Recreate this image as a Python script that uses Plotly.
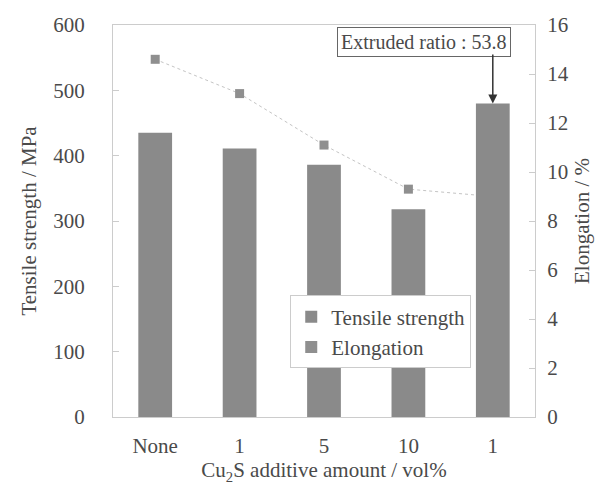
import plotly.graph_objects as go

categories = ["None", "1", "5", "10", "1"]
positions = [0, 1, 2, 3, 4]
tensile_strength = [435, 411, 386, 318, 480]
elongation = [14.6, 13.2, 11.1, 9.3, 9.0]
left_ticks = [0, 100, 200, 300, 400, 500, 600]
right_ticks = [0, 2, 4, 6, 8, 10, 12, 14, 16]

font = "Liberation Serif"
txt = "#4a4a4a"

fig = go.Figure()
# elongation line (on y, right side), drawn beneath the bars
fig.add_trace(go.Scatter(
    x=positions, y=elongation, yaxis="y", mode="lines",
    line=dict(color="#c4c4c4", width=1, dash="dot"), showlegend=False,
    hoverinfo="skip",
))
fig.add_trace(go.Scatter(
    x=positions, y=elongation, name="Elongation", yaxis="y",
    mode="markers",
    marker=dict(symbol="square", size=9, color="#8f8f8f"),
))
fig.add_trace(go.Bar(
    x=positions, y=tensile_strength, name="Tensile strength", yaxis="y2",
    marker=dict(color="#8a8a8a", line=dict(width=0)), width=0.4,
))

fig.update_layout(
    width=607, height=485,
    margin=dict(l=105, r=80, t=17, b=76, autoexpand=False),
    paper_bgcolor="white", plot_bgcolor="white",
    font=dict(family=font, size=21, color=txt),
    showlegend=True,
    legend=dict(
        x=0.42, y=0.31, xanchor="left", yanchor="top",
        bordercolor="#cccccc", borderwidth=1, bgcolor="white",
        font=dict(size=21, color=txt, family=font), traceorder="reversed",
        itemsizing="constant", tracegroupgap=0,
    ),
    xaxis=dict(
        tickmode="array", tickvals=positions, ticktext=categories,
        range=[-0.5, 4.5], showgrid=False, zeroline=False,
        showline=True, linecolor="#cccccc", mirror=True, automargin=False,
        ticks="", ticklabelstandoff=10,
        tickfont=dict(family=font, size=21, color=txt),
        title=dict(text="Cu<sub>2</sub>S additive amount / vol%", standoff=2,
                   font=dict(size=21, color=txt, family=font)),
    ),
    yaxis=dict(
        range=[0, 16], tickvals=right_ticks, side="right", automargin=False,
        showgrid=False, zeroline=False, showline=True, linecolor="#cccccc",
        ticks="inside", ticklen=6, tickcolor="#cccccc", ticklabelstandoff=7,
        tickfont=dict(family=font, size=21, color=txt),
        title=dict(text="Elongation / %", standoff=6,
                   font=dict(size=21, color=txt, family=font)),
    ),
    yaxis2=dict(
        range=[0, 600], tickvals=left_ticks, overlaying="y", side="left",
        automargin=False,
        showgrid=False, zeroline=False, showline=True, linecolor="#cccccc",
        ticks="inside", ticklen=6, tickcolor="#cccccc", ticklabelstandoff=23,
        tickfont=dict(family=font, size=21, color=txt),
        title=dict(text="Tensile strength / MPa", standoff=10,
                   font=dict(size=21, color=txt, family=font)),
    ),
    annotations=[
        dict(
            x=0.737, y=0.957, xref="paper", yref="paper",
            text="Extruded ratio : 53.8", showarrow=False,
            bordercolor="#666666", borderwidth=1, borderpad=3, bgcolor="white",
            font=dict(size=20, color=txt, family=font),
            xanchor="center", yanchor="middle",
        ),
        dict(
            x=4, y=480, xref="x", yref="y2", ax=4, ay=557, axref="x", ayref="y2",
            text="", showarrow=True, arrowhead=2, arrowsize=1.2,
            arrowwidth=1.5, arrowcolor="#333333", standoff=0,
        ),
    ],
)

fig.write_html("out.html")
